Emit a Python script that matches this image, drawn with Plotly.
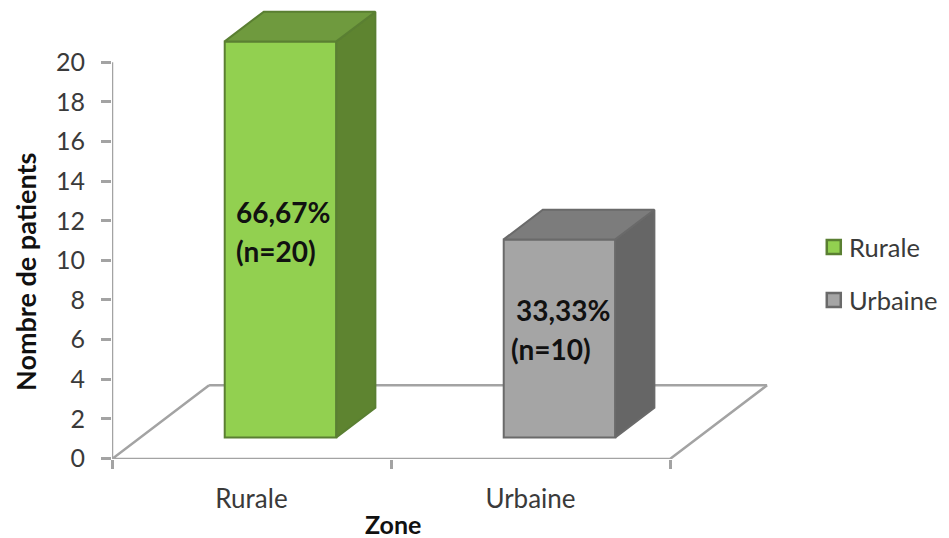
import plotly.graph_objects as go

# Chart data
categories = ["Rurale", "Urbaine"]
patients = [20, 10]
share_labels = ["66,67%", "33,33%"]
count_labels = ["(n=20)", "(n=10)"]
y_ticks = list(range(0, 21, 2))

# Face colours per series: front, side, top, edge
front_colors = ["#92D050", "#A5A5A5"]
side_colors = ["#5E8430", "#666666"]
top_colors = ["#6F9A3E", "#7C7C7C"]
edge_colors = ["#5A7F32", "#6A6A6A"]

# Pseudo-3D geometry, in axis units
BAR_WIDTH = 0.40
BAR_SHIFT = 0.104
FLOOR_LIFT = 1.06
BAR_DX, BAR_DY = 0.14, 1.5
FLOOR_DX, FLOOR_DY = 0.348, 3.72
Y_MIN, Y_MAX = -0.03, 23.15
AXIS_GRAY = "#A3A3A3"
TEXT_GRAY = "#3A3A3A"
FONT = "Lato"

fig = go.Figure()

# Back edge of the floor sits behind the bars
fig.add_shape(
    type="line", layer="below", xref="x", yref="y",
    x0=-0.5 + FLOOR_DX, x1=1.5 + FLOOR_DX,
    y0=Y_MIN + FLOOR_DY, y1=Y_MIN + FLOOR_DY,
    line=dict(color=AXIS_GRAY, width=2.5),
)

# Remaining floor edges and the value axis line
fig.add_trace(go.Scatter(
    x=[-0.5 + FLOOR_DX, -0.5, 1.5, 1.5 + FLOOR_DX],
    y=[Y_MIN + FLOOR_DY, Y_MIN, Y_MIN, Y_MIN + FLOOR_DY],
    mode="lines", line=dict(color=AXIS_GRAY, width=2.5),
    showlegend=False, hoverinfo="skip", cliponaxis=False,
))
fig.add_trace(go.Scatter(
    x=[-0.5, -0.5], y=[Y_MIN, y_ticks[-1]],
    mode="lines", line=dict(color=AXIS_GRAY, width=2.5),
    showlegend=False, hoverinfo="skip", cliponaxis=False,
))

for i, (name, value) in enumerate(zip(categories, patients)):
    x0 = i + BAR_SHIFT - BAR_WIDTH / 2
    x1 = i + BAR_SHIFT + BAR_WIDTH / 2
    low = FLOOR_LIFT
    high = FLOOR_LIFT + value
    edge = dict(color=edge_colors[i], width=2)
    # Side face
    fig.add_trace(go.Scatter(
        x=[x1, x1 + BAR_DX, x1 + BAR_DX, x1, x1],
        y=[low, low + BAR_DY, high + BAR_DY, high, low],
        mode="lines", fill="toself", fillcolor=side_colors[i], line=edge,
        showlegend=False, hoverinfo="skip",
    ))
    # Top face
    fig.add_trace(go.Scatter(
        x=[x0, x0 + BAR_DX, x1 + BAR_DX, x1, x0],
        y=[high, high + BAR_DY, high + BAR_DY, high, high],
        mode="lines", fill="toself", fillcolor=top_colors[i], line=edge,
        showlegend=False, hoverinfo="skip",
    ))
    # Front face
    fig.add_trace(go.Bar(
        x=[i + BAR_SHIFT], y=[value], base=low, width=BAR_WIDTH, name=name,
        marker=dict(color=front_colors[i], line=edge), showlegend=False,
    ))

annotations = []

# Legend entries placed to the right of the floor
legend_x = 2.087
legend_text_x = 2.1416
legend_y = [10.68, 8.0]
for i, name in enumerate(categories):
    fig.add_trace(go.Scatter(
        x=[legend_x], y=[legend_y[i]], mode="markers",
        marker=dict(symbol="square", size=14, color=front_colors[i],
                    line=dict(color=edge_colors[i], width=2.5)),
        showlegend=False, hoverinfo="skip",
    ))
    annotations.append(dict(
        x=legend_text_x, y=legend_y[i], xref="x", yref="y", text=name, showarrow=False,
        xanchor="left", yanchor="middle", xshift=-2,
        font=dict(family=FONT, size=25.5, color=TEXT_GRAY),
    ))

# Value labels inside the bars
share_xy = [(-0.056, 12.45), (0.948, 7.5)]
count_xy = [(-0.056, 10.45), (0.93, 5.55)]
for i in range(len(categories)):
    for text, (ax, ay) in ((share_labels[i], share_xy[i]), (count_labels[i], count_xy[i])):
        annotations.append(dict(
            x=ax, y=ay, xref="x", yref="y", text=f"<b>{text}</b>", showarrow=False,
            xanchor="left", yanchor="middle", xshift=-2,
            font=dict(family=FONT, size=28, color="#111111"),
        ))

# Axis titles, positioned as fractions of the plotting area
annotations.append(dict(
    x=(393 - 112) / 837, y=(459 - 524) / 459, xref="paper", yref="paper", text="<b>Zone</b>",
    showarrow=False, font=dict(family=FONT, size=25, color="#111111"),
    yanchor="middle", xanchor="center",
))
annotations.append(dict(
    x=(25 - 112) / 837, y=(459 - 272) / 459, xref="paper", yref="paper",
    text="<b>Nombre de patients</b>", textangle=-90, showarrow=False,
    font=dict(family=FONT, size=27, color="#111111"),
    yanchor="middle", xanchor="center",
))

fig.update_layout(
    width=949, height=538,
    margin=dict(l=112, r=0, t=0, b=79),
    paper_bgcolor="white", plot_bgcolor="white",
    showlegend=False, annotations=annotations,
    xaxis=dict(
        range=[-0.5, 2.5], showgrid=False, zeroline=False, automargin=False,
        tickmode="array", tickvals=[0, 1], ticktext=categories,
        ticks="outside", ticklen=17, tickcolor="rgba(0,0,0,0)",
        tickfont=dict(family=FONT, size=26, color=TEXT_GRAY),
        minor=dict(tickmode="array", tickvals=[-0.5, 0.5, 1.5], ticks="outside",
                   ticklen=9, tickwidth=2.5, tickcolor=AXIS_GRAY, showgrid=False),
        showline=False,
    ),
    yaxis=dict(
        range=[Y_MIN, Y_MAX], showgrid=False, zeroline=False, automargin=False,
        tickmode="array", tickvals=y_ticks,
        ticks="outside", ticklen=10, tickwidth=2.5, tickcolor=AXIS_GRAY,
        ticklabelstandoff=11,
        tickfont=dict(family=FONT, size=25, color=TEXT_GRAY),
        showline=False,
    ),
)

fig.write_html("out.html")
